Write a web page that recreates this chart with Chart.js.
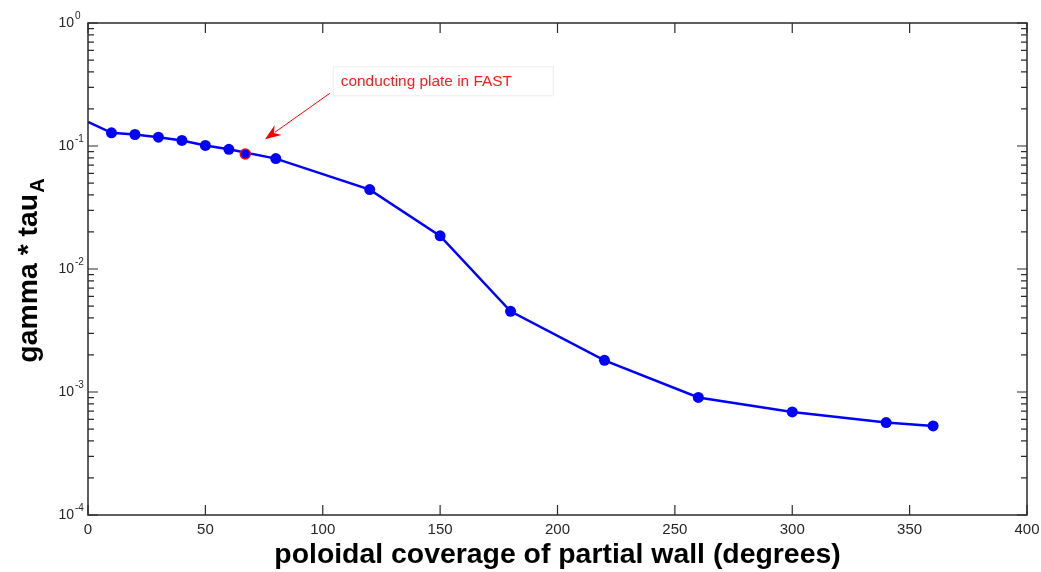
<!DOCTYPE html>
<html>
<head>
<meta charset="utf-8">
<script src="https://cdn.jsdelivr.net/npm/chart.js@4/dist/chart.umd.min.js"></script>
<style>
  body { margin: 0; background: #fff; }
  #wrap { width: 1041px; height: 572px; position: relative; }
</style>
</head>
<body>
<div id="wrap"><canvas id="wallChart"></canvas></div>
<script>
// poloidal coverage (degrees) vs growth rate gamma*tau_A
const coverage = [0, 10, 20, 30, 40, 50, 60, 80, 120, 150, 180, 220, 260, 300, 340, 360];
const gammaTau = [0.157, 0.128, 0.124, 0.118, 0.111, 0.101, 0.094, 0.079, 0.0442, 0.0186, 0.00453, 0.00181, 0.000903, 0.000688, 0.000564, 0.00053];
// FAST conducting plate case
const fastCoverage = [67];
const fastGamma = [0.086];

const xTicks = [0, 50, 100, 150, 200, 250, 300, 350, 400];
const yDecades = [-4, -3, -2, -1, 0];

const axisColor = "#2b2b2b";
const labelFont = "'Liberation Sans', Arial, sans-serif";

// annotation in data coords
const note = {
  text: "conducting plate in FAST",
  tail: { x: 103, y: 0.268 },
  tip: { x: 75.4, y: 0.1134 },
};

const axesPlugin = {
  id: "matlabAxes",
  afterDraw(chart) {
    const ctx = chart.ctx;
    const xs = chart.scales.x;
    const ys = chart.scales.y;
    const a = chart.chartArea;
    ctx.save();

    // frame
    ctx.strokeStyle = axisColor;
    ctx.lineWidth = 1.5;
    ctx.strokeRect(a.left, a.top, a.right - a.left, a.bottom - a.top);

    // x ticks (bottom + top, inward)
    ctx.lineWidth = 1.2;
    ctx.fillStyle = "#262626";
    ctx.font = "15px " + labelFont;
    ctx.textAlign = "center";
    ctx.textBaseline = "top";
    xTicks.forEach((v) => {
      const px = xs.getPixelForValue(v);
      ctx.beginPath();
      ctx.moveTo(px, a.bottom);
      ctx.lineTo(px, a.bottom - 10);
      ctx.moveTo(px, a.top);
      ctx.lineTo(px, a.top + 10);
      ctx.stroke();
      ctx.fillText(String(v), px, a.bottom + 7);
    });

    // y ticks, major + minor
    yDecades.forEach((e) => {
      for (let m = 1; m <= 9; m++) {
        const v = m * Math.pow(10, e);
        if (v > 1.0001) break;
        const py = ys.getPixelForValue(v);
        const len = m === 1 ? 10 : 6;
        ctx.beginPath();
        ctx.moveTo(a.left, py);
        ctx.lineTo(a.left + len, py);
        ctx.moveTo(a.right, py);
        ctx.lineTo(a.right - len, py);
        ctx.stroke();
        if (m === 1) {
          ctx.font = "14px " + labelFont;
          ctx.textAlign = "right";
          ctx.textBaseline = "middle";
          ctx.fillText("10", a.left - 14, py);
          ctx.font = "10px " + labelFont;
          ctx.textAlign = "left";
          ctx.textBaseline = "alphabetic";
          ctx.fillText(String(e), a.left - 13, py - 4);
        }
      }
    });

    // axis titles
    ctx.fillStyle = "#000";
    ctx.font = "bold 28.4px " + labelFont;
    ctx.textAlign = "center";
    ctx.textBaseline = "alphabetic";
    ctx.fillText("poloidal coverage of partial wall (degrees)", (a.left + a.right) / 2, 563);

    ctx.save();
    ctx.translate(37, 271);
    ctx.rotate(-Math.PI / 2);
    ctx.font = "bold 28.4px " + labelFont;
    const main = "gamma * tau";
    const wMain = ctx.measureText(main).width;
    ctx.font = "bold 20px " + labelFont;
    const wSub = ctx.measureText("A").width;
    const start = -(wMain + wSub) / 2;
    ctx.font = "bold 28.4px " + labelFont;
    ctx.textAlign = "left";
    ctx.fillText(main, start, 0);
    ctx.font = "bold 20px " + labelFont;
    ctx.fillText("A", start + wMain + 1, 7);
    ctx.restore();

    // annotation arrow + text box
    const tx = xs.getPixelForValue(note.tail.x);
    const ty = ys.getPixelForValue(note.tail.y);
    const hx = xs.getPixelForValue(note.tip.x);
    const hy = ys.getPixelForValue(note.tip.y);
    const ang = Math.atan2(hy - ty, hx - tx);
    const c = Math.cos(ang), s = Math.sin(ang);
    ctx.strokeStyle = "#ff0000";
    ctx.fillStyle = "#ff0000";
    ctx.lineWidth = 1;
    ctx.beginPath();
    ctx.moveTo(tx, ty);
    ctx.lineTo(hx - 12 * c, hy - 12 * s);
    ctx.stroke();
    ctx.beginPath();
    ctx.moveTo(hx, hy);
    ctx.lineTo(hx - 16 * c + 6 * s, hy - 16 * s - 6 * c);
    ctx.lineTo(hx - 11 * c, hy - 11 * s);
    ctx.lineTo(hx - 16 * c - 6 * s, hy - 16 * s + 6 * c);
    ctx.closePath();
    ctx.fill();

    ctx.strokeStyle = "#ececec";
    ctx.strokeRect(tx + 3.5, ty - 26.5, 220, 29);
    ctx.font = "15.4px " + labelFont;
    ctx.textAlign = "left";
    ctx.textBaseline = "middle";
    ctx.fillStyle = "#ff1a1a";
    ctx.fillText(note.text, tx + 11, ty - 12);

    ctx.restore();
  },
};

const ctx = document.getElementById("wallChart").getContext("2d");
new Chart(ctx, {
  type: "line",
  data: {
    datasets: [
      {
        label: "FAST",
        data: fastCoverage.map((x, i) => ({ x: x, y: fastGamma[i] })),
        showLine: false,
        pointRadius: 5,
        pointBackgroundColor: "#0000ff",
        pointBorderColor: "#ff0000",
        pointBorderWidth: 1.5,
        order: 0,
      },
      {
        label: "gamma*tauA",
        data: coverage.map((x, i) => ({ x: x, y: gammaTau[i] })),
        borderColor: "#0000ff",
        borderWidth: 2.5,
        tension: 0,
        fill: false,
        pointRadius: coverage.map((x) => (x === 0 ? 0 : 5.5)),
        pointBackgroundColor: "#0000ff",
        pointBorderColor: "#0000ff",
        pointBorderWidth: 0,
        order: 1,
      },
    ],
  },
  options: {
    responsive: true,
    maintainAspectRatio: false,
    animation: false,
    layout: { padding: { left: 80, right: 14, top: 23, bottom: 49 } },
    plugins: {
      legend: { display: false },
      tooltip: { enabled: false },
    },
    scales: {
      x: {
        type: "linear",
        min: 0,
        max: 400,
        grid: { display: false },
        border: { display: false },
        ticks: { display: false },
      },
      y: {
        type: "logarithmic",
        min: 1e-4,
        max: 1,
        grid: { display: false },
        border: { display: false },
        ticks: { display: false },
      },
    },
  },
  plugins: [axesPlugin],
});
</script>
</body>
</html>
